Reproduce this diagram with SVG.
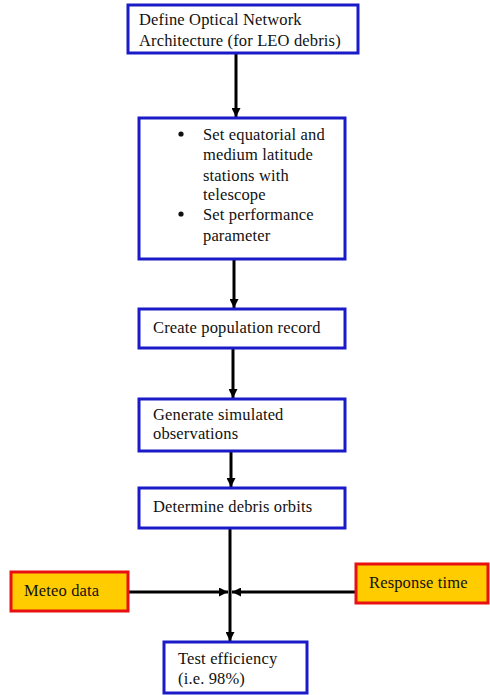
<svg xmlns="http://www.w3.org/2000/svg" width="490" height="695" viewBox="0 0 490 695">
<style>
.box{fill:#fff;stroke:#1a1ac8;stroke-width:3}
.ext{fill:#ffcc00;stroke:#e81010;stroke-width:3}
.t{font-family:"Liberation Serif","Times New Roman",serif;font-size:16.5px;letter-spacing:0.15px;fill:#111}
.c{stroke:#000;stroke-width:3;fill:none}
</style>
<defs>
<marker id="ah" viewBox="0 0 10 10" refX="10" refY="5" markerWidth="3" markerHeight="3" orient="auto" markerUnits="strokeWidth">
<path d="M0,0 L10,5 L0,10 z" fill="#000"/>
</marker>
</defs>
<rect width="490" height="695" fill="#fff"/>
<g id="connectors">
<line class="c" x1="236" y1="53" x2="236" y2="117" marker-end="url(#ah)"/>
<line class="c" x1="234" y1="259" x2="234" y2="308" marker-end="url(#ah)"/>
<line class="c" x1="233" y1="348" x2="233" y2="398" marker-end="url(#ah)"/>
<line class="c" x1="231" y1="451" x2="231" y2="487" marker-end="url(#ah)"/>
<line class="c" x1="230" y1="528" x2="230" y2="641" marker-end="url(#ah)"/>
<line class="c" x1="128" y1="592" x2="228" y2="592" marker-end="url(#ah)"/>
<line class="c" x1="356" y1="592" x2="232" y2="592" marker-end="url(#ah)"/>
</g>
<g id="n1">
<rect class="box" x="128" y="5" width="230" height="48"/>
<text class="t" x="139" y="25">Define Optical Network</text>
<text class="t" x="139" y="46">Architecture (for LEO debris)</text>
</g>
<g id="n2">
<rect class="box" x="139" y="118" width="206" height="141"/>
<circle cx="181" cy="134" r="2.6" fill="#111"/>
<circle cx="181" cy="214" r="2.6" fill="#111"/>
<text class="t" x="203" y="140">Set equatorial and</text>
<text class="t" x="203" y="160">medium latitude</text>
<text class="t" x="203" y="181">stations with</text>
<text class="t" x="203" y="200">telescope</text>
<text class="t" x="203" y="220">Set performance</text>
<text class="t" x="203" y="241">parameter</text>
</g>
<g id="n3">
<rect class="box" x="139" y="309" width="206" height="39"/>
<text class="t" x="153" y="333">Create population record</text>
</g>
<g id="n4">
<rect class="box" x="139" y="399" width="206" height="52"/>
<text class="t" x="153" y="420">Generate simulated</text>
<text class="t" x="153" y="439">observations</text>
</g>
<g id="n5">
<rect class="box" x="139" y="488" width="206" height="40"/>
<text class="t" x="153" y="512">Determine debris orbits</text>
</g>
<g id="n6">
<rect class="box" x="164" y="642" width="143" height="51"/>
<text class="t" x="178" y="664">Test efficiency</text>
<text class="t" x="178" y="684">(i.e. 98%)</text>
</g>
<g id="meteo">
<rect class="ext" x="11" y="572" width="117" height="39"/>
<text class="t" x="24" y="596">Meteo data</text>
</g>
<g id="response">
<rect class="ext" x="356" y="564" width="132" height="39"/>
<text class="t" x="369" y="588">Response time</text>
</g>
</svg>
